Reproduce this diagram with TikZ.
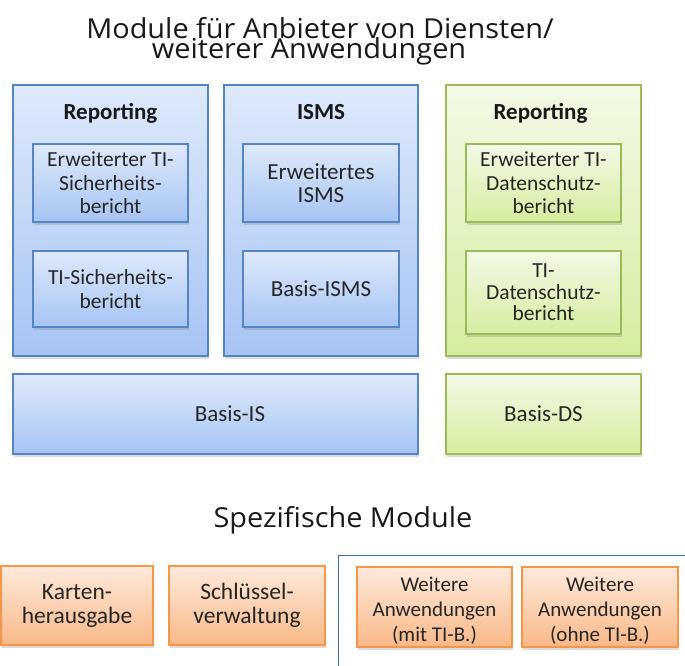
\documentclass[tikz,border=0pt]{standalone}
\usepackage{fontspec}
\setmainfont{Carlito}
\newfontfamily\titlefont[FakeStretch=1.05]{Open Sans}
\usetikzlibrary{shadows}
\definecolor{bluetop}{HTML}{DEE9FB}
\definecolor{bluebot}{HTML}{A6C4F3}
\definecolor{blueline}{HTML}{5585C6}
\definecolor{greentop}{HTML}{F3F9E6}
\definecolor{greenbot}{HTML}{D5EDA0}
\definecolor{greenline}{HTML}{9BBB59}
\definecolor{orangetop}{HTML}{FEEADC}
\definecolor{orangebot}{HTML}{F9B888}
\definecolor{orangeline}{HTML}{F79646}
\definecolor{frameline}{HTML}{4A6B9B}
\tikzset{
  box/.style={rectangle, line width=1.3pt, inner sep=0pt, align=center,
    text=black!85,
    drop shadow={opacity=0.28, shadow xshift=1pt, shadow yshift=-2.5pt}},
  bluebox/.style={box, draw=blueline, top color=bluetop, bottom color=bluebot},
  greenbox/.style={box, draw=greenline, top color=greentop, bottom color=greenbot},
  orangebox/.style={box, draw=orangeline, top color=orangetop, bottom color=orangebot},
  txt/.style={font=\fontsize{21.5}{23.5}\selectfont},
  bigtxt/.style={font=\fontsize{23}{23.5}\selectfont},
  head/.style={anchor=base, inner sep=0pt, font=\fontsize{23}{25}\selectfont\bfseries, text=black!90},
  ttl/.style={anchor=base, inner sep=0pt, font=\titlefont\fontsize{27.5}{20}\selectfont, text=black!90},
}
\begin{document}
\begin{tikzpicture}[x=1pt, y=-1pt]
\useasboundingbox (0,0) rectangle (685,666);
\begin{scope}
\clip (0,0) rectangle (685,666);
% titles
\node[ttl] (t1) at (320,39) {Module für Anbieter von Diensten/};
\node[ttl] (t2) at (309,59) {weiterer Anwendungen};
\node[ttl] (t3) at (343,527) {Spezifische Module};

% outer columns
\node[bluebox, minimum width=195pt, minimum height=271pt] (rep) at (110.5,220.5) {};
\node[bluebox, minimum width=194pt, minimum height=271pt] (isms) at (321,220.5) {};
\node[greenbox, minimum width=195pt, minimum height=271pt] (drep) at (543.5,220.5) {};

\node[head] (reph) at (110.5,120) {Reporting};
\node[head] (ismsh) at (321,120) {ISMS};
\node[head] (dreph) at (540.5,120) {Reporting};

% inner boxes
\node[bluebox, txt, minimum width=155pt, minimum height=78pt] (esb) at (110.5,183) {Erweiterter TI-\\Sicherheits-\\bericht};
\node[bluebox, txt, minimum width=155pt, minimum height=76pt] (sb) at (110.5,289) {TI-Sicherheits-\\bericht};
\node[bluebox, bigtxt, minimum width=156pt, minimum height=78pt] (eisms) at (321,183) {Erweitertes\\ISMS};
\node[bluebox, bigtxt, minimum width=156pt, minimum height=76pt] (bisms) at (321,289) {Basis-ISMS};
\node[greenbox, txt, minimum width=155pt, minimum height=78pt] (edb) at (543.5,183) {Erweiterter TI-\\Datenschutz-\\bericht};
\node[greenbox, txt, minimum width=155pt, minimum height=83pt, font=\fontsize{21.5}{21.5}\selectfont] (db) at (543.5,292.5) {TI-\\Datenschutz-\\bericht};

% basis boxes
\node[bluebox, minimum width=405pt, minimum height=80pt] (bis) at (215.5,414) {};
\node[bigtxt, inner sep=0pt, text=black!85] (bist) at (230,414) {Basis-IS};
\node[greenbox, bigtxt, minimum width=195pt, minimum height=80pt] (bds) at (543.5,414) {Basis-DS};

% specific modules
\draw[frameline, line width=0.9pt] (338,555) rectangle (720,720);
\node[orangebox, font=\fontsize{23.5}{24}\selectfont, minimum width=152pt, minimum height=79pt] (kart) at (77,605.5) {Karten-\\herausgabe};
\node[orangebox, font=\fontsize{23.5}{24}\selectfont, minimum width=156pt, minimum height=79pt] (schl) at (247,605.5) {Schlüssel-\\verwaltung};
\node[orangebox, minimum width=155pt, minimum height=80pt] (wmit) at (434.5,607) {};
\node[font=\fontsize{21}{25}\selectfont, align=center, inner sep=0pt, text=black!85] (wmitt) at (434.5,611) {Weitere\\Anwendungen\\(mit TI-B.)};
\node[orangebox, minimum width=156pt, minimum height=80pt] (wohne) at (600,607) {};
\node[font=\fontsize{21}{25}\selectfont, align=center, inner sep=0pt, text=black!85] (wohnet) at (600,611) {Weitere\\Anwendungen\\(ohne TI-B.)};
\end{scope}
\end{tikzpicture}
\end{document}
